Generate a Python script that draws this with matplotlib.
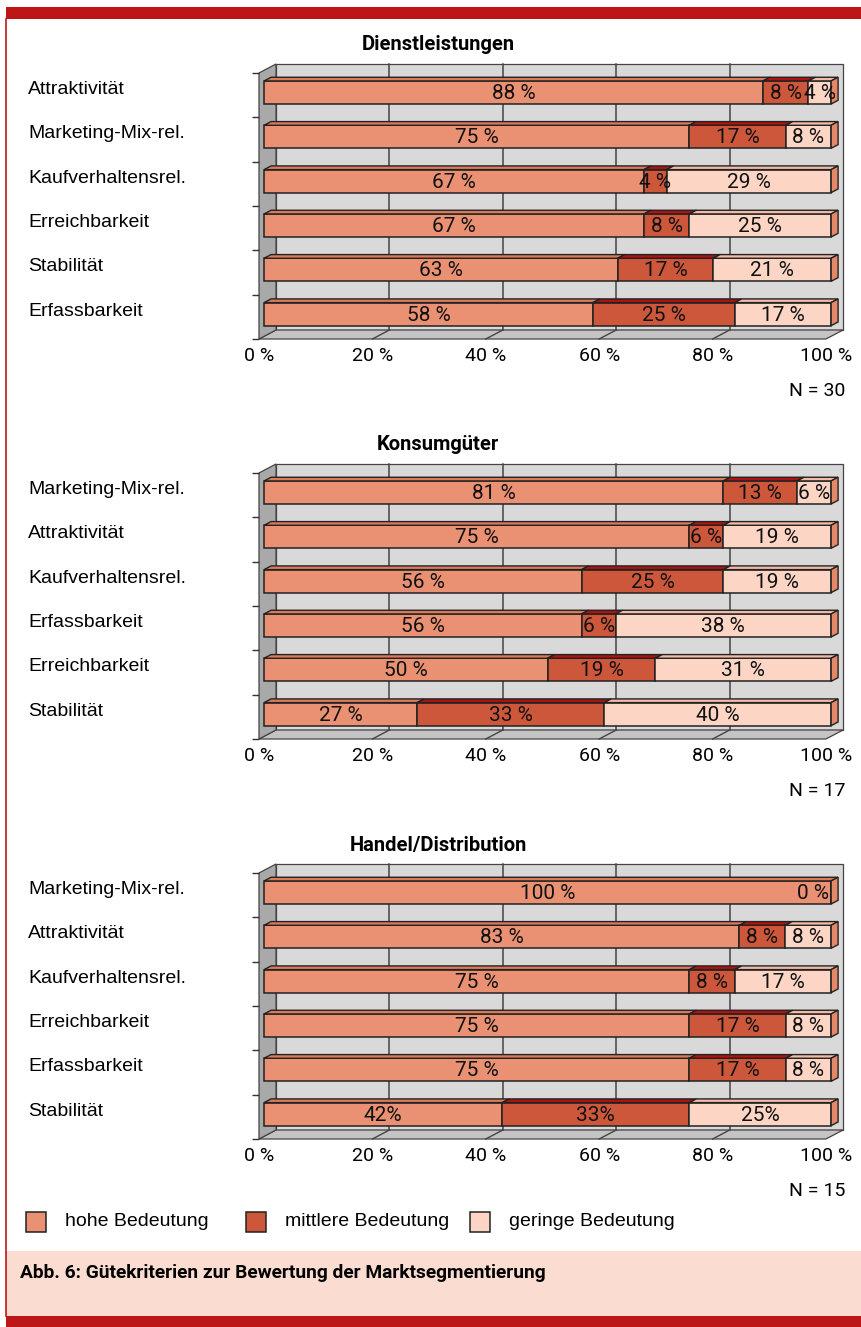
import matplotlib
matplotlib.use("Agg")
import matplotlib.pyplot as plt
from matplotlib.patches import Rectangle, Polygon

W, H = 862, 1327

# --- data -------------------------------------------------------------
titles = ["Dienstleistungen", "Konsumgüter", "Handel/Distribution"]
n_labels = ["N = 30", "N = 17", "N = 15"]
series_names = ["hohe Bedeutung", "mittlere Bedeutung", "geringe Bedeutung"]
x_ticks = [0, 20, 40, 60, 80, 100]
x_ticklabels = ["0 %", "20 %", "40 %", "60 %", "80 %", "100 %"]

dienst_cats = ["Attraktivität", "Marketing-Mix-rel.", "Kaufverhaltensrel.",
               "Erreichbarkeit", "Stabilität", "Erfassbarkeit"]
dienst_hoch = [88, 75, 67, 67, 63, 58]
dienst_mittel = [8, 17, 4, 8, 17, 25]
dienst_gering = [4, 8, 29, 25, 21, 17]
dienst_fmt = ["{} %"] * 6

konsum_cats = ["Marketing-Mix-rel.", "Attraktivität", "Kaufverhaltensrel.",
               "Erfassbarkeit", "Erreichbarkeit", "Stabilität"]
konsum_hoch = [81, 75, 56, 56, 50, 27]
konsum_mittel = [13, 6, 25, 6, 19, 33]
konsum_gering = [6, 19, 19, 38, 31, 40]
konsum_fmt = ["{} %"] * 6

handel_cats = ["Marketing-Mix-rel.", "Attraktivität", "Kaufverhaltensrel.",
               "Erreichbarkeit", "Erfassbarkeit", "Stabilität"]
handel_hoch = [100, 83, 75, 75, 75, 42]
handel_mittel = [0, 8, 8, 17, 17, 33]
handel_gering = [0, 8, 17, 8, 8, 25]
handel_fmt = ["{} %"] * 5 + ["{}%"]

panels = [
    (dienst_cats, [dienst_hoch, dienst_mittel, dienst_gering], dienst_fmt),
    (konsum_cats, [konsum_hoch, konsum_mittel, konsum_gering], konsum_fmt),
    (handel_cats, [handel_hoch, handel_mittel, handel_gering], handel_fmt),
]

# --- style ------------------------------------------------------------
red = "#BD1616"
front_cols = ["#E99172", "#CD573B", "#FCD5C4"]
top_cols = ["#DC7B59", "#B0120F", "#F2BBA5"]
side_col = "#E3896A"
edge = "#222222"
narrow = ["Roboto", "DejaVu Sans"]
regular = ["Liberation Sans", "DejaVu Sans"]

DX, DY = 3.0, 0.203      # depth of the 3d box in data units
A, B = 0.30, 0.71        # front/back of the bars inside the depth
BAR_H = 0.52

fig = plt.figure(figsize=(W / 100, H / 100), dpi=100)
bg = fig.add_axes([0, 0, 1, 1], zorder=0)
bg.set_xlim(0, W)
bg.set_ylim(H, 0)
bg.axis("off")

# frame
bg.add_patch(Rectangle((6, 7), W - 6, 12, color=red, lw=0))
bg.plot([6.5, 6.5], [19, 1316], color=red, lw=1.2)
bg.add_patch(Rectangle((6, 1251), W - 6, 65, color="#FADDD0", lw=0))
bg.add_patch(Rectangle((6, 1316), W - 6, 11, color=red, lw=0))
bg.text(20, 1273, "Abb. 6: Gütekriterien zur Bewertung der Marktsegmentierung",
        family=narrow, fontweight="bold", fontsize=13.8, va="center", ha="left")

for k, (cats, series, fmts) in enumerate(panels):
    off = 400 * k
    ax = fig.add_axes([259 / W, 1 - (339 + off) / H, 567 / W, 266 / H], zorder=1)
    ax.set_xlim(0, 100)
    ax.set_ylim(0, 6)
    ax.patch.set_visible(False)
    for s in ax.spines.values():
        s.set_visible(False)

    # walls and floor
    ax.add_patch(Polygon([(DX, DY), (100 + DX, DY), (100 + DX, 6 + DY), (DX, 6 + DY)],
                         closed=True, fc="#D9D9D9", ec="#444444", lw=0.9, clip_on=False, zorder=0.5))
    ax.add_patch(Polygon([(0, 0), (100, 0), (100 + DX, DY), (DX, DY)],
                         closed=True, fc="#C4C4C4", ec="#444444", lw=0.9, clip_on=False, zorder=0.5))
    ax.add_patch(Polygon([(0, 0), (DX, DY), (DX, 6 + DY), (0, 6)],
                         closed=True, fc="#A9A9A9", ec="#444444", lw=0.9, clip_on=False, zorder=0.5))
    for xv in x_ticks[1:-1]:
        ax.plot([xv + DX, xv + DX], [DY, 6 + DY], color="#444444", lw=1.1, zorder=0.6, clip_on=False)
        ax.plot([xv, xv + DX], [0, DY], color="#444444", lw=1.0, zorder=0.6, clip_on=False)

    # axes ticks
    ax.set_xticks(x_ticks, x_ticklabels)
    ax.tick_params(axis="x", length=0, pad=6, labelsize=14)
    for t in ax.get_xticklabels():
        t.set_family(narrow)
    ncat = len(cats)
    centers = [ncat - j - 0.5 for j in range(ncat)]
    ax.set_yticks([c + 0.17 for c in centers], cats)
    ax.set_yticks(range(ncat + 1), minor=True)
    ax.tick_params(axis="y", which="major", length=0, pad=166, labelsize=14)
    ax.tick_params(axis="y", which="minor", length=5, width=1, color="#333333", direction="out")
    for t in ax.get_yticklabels():
        t.set_family(regular)
        t.set_horizontalalignment("left")

    # bars
    lefts = [0.0] * ncat
    totals = [sum(col) for col in zip(*series)]
    for si, vals in enumerate(series):
        widths = [v * 100.0 / tot for v, tot in zip(vals, totals)]
        ys = [c + A * DY for c in centers]
        ax.barh(ys, widths, left=[l + A * DX for l in lefts], height=BAR_H,
                color=front_cols[si], edgecolor=edge, lw=1.1, zorder=3, clip_on=False)
        for j in range(ncat):
            x0 = lefts[j] + A * DX
            x1 = x0 + widths[j]
            yt = ys[j] + BAR_H / 2
            d_x, d_y = (B - A) * DX, (B - A) * DY
            if widths[j] > 0:
                ax.add_patch(Polygon([(x0, yt), (x1, yt), (x1 + d_x, yt + d_y), (x0 + d_x, yt + d_y)],
                                     closed=True, fc=top_cols[si], ec=edge, lw=1.0, zorder=3, clip_on=False))
            if si == len(series) - 1:
                yb = ys[j] - BAR_H / 2
                ax.add_patch(Polygon([(x1, yb), (x1, yt), (x1 + d_x, yt + d_y), (x1 + d_x, yb + d_y)],
                                     closed=True, fc=side_col, ec=edge, lw=1.0, zorder=3, clip_on=False))
            label = fmts[j].format(vals[j])
            if widths[j] > 0:
                ax.text(x0 + widths[j] / 2, ys[j] - 0.02, label, ha="center", va="center",
                        family=narrow, fontsize=15, color="#111111", zorder=5)
            elif si == len(series) - 1:
                ax.text(x1 - 0.3, ys[j] - 0.02, label, ha="right", va="center",
                        family=narrow, fontsize=15, color="#111111", zorder=5)
        lefts = [l + w for l, w in zip(lefts, widths)]

    ax.text(103.4, -1.17, n_labels[k], ha="right", va="center", family=narrow, fontsize=14)
    bg.text(438, 45 + off, titles[k], ha="center", va="center",
            family=narrow, fontweight="bold", fontsize=14.5)

# legend
leg_x = [26, 246, 470]
for i, name in enumerate(series_names):
    bg.add_patch(Rectangle((leg_x[i], 1212), 20, 20, fc=front_cols[i], ec=edge, lw=1.1))
    bg.text(leg_x[i] + 39, 1222, name, ha="left", va="center", family=regular, fontsize=14)

fig.savefig("out.png", dpi=100)
